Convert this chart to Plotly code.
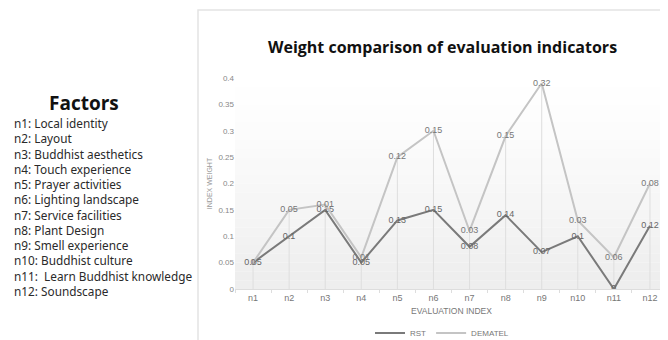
import numpy as np
import plotly.graph_objects as go

categories = ["n1", "n2", "n3", "n4", "n5", "n6", "n7", "n8", "n9", "n10", "n11", "n12"]
rst = [0.05, 0.1, 0.15, 0.05, 0.13, 0.15, 0.08, 0.14, 0.07, 0.1, 0, 0.12]
dematel = [0, 0.05, 0.01, 0.01, 0.12, 0.15, 0.03, 0.15, 0.32, 0.03, 0.06, 0.08]
factors = [
    "n1: Local identity",
    "n2: Layout",
    "n3: Buddhist aesthetics",
    "n4: Touch experience",
    "n5: Prayer activities",
    "n6: Lighting landscape",
    "n7: Service facilities",
    "n8: Plant Design",
    "n9: Smell experience",
    "n10: Buddhist culture",
    "n11:  Learn Buddhist knowledge",
    "n12: Soundscape",
]
yticks = [0, 0.05, 0.1, 0.15, 0.2, 0.25, 0.3, 0.35, 0.4]

OFF = 8  # page body margin
W, H = 660, 332
ML, MR, MT, MB = 227, 0, 70, 51
PW, PH = W - ML - MR, H - MT - MB

def px(x):
    return (x - OFF - ML) / PW

def py(y):
    return (H - MB - (y - OFF)) / PH

stacked = np.array(rst) + np.array(dematel)

fig = go.Figure()

# drop lines from top series to axis
fig.add_trace(go.Scatter(
    x=categories, y=stacked, mode="markers", marker=dict(size=1, color="rgba(0,0,0,0)"),
    error_y=dict(type="data", symmetric=False, array=[0] * len(stacked), arrayminus=stacked,
                 color="#dedede", thickness=1, width=0),
    showlegend=False, hoverinfo="skip"))

fig.add_trace(go.Scatter(
    x=categories, y=rst, name="RST", mode="lines+text",
    line=dict(color="#7a7a7a", width=2),
    text=[f"{v:g}" for v in rst], textposition="middle center",
    textfont=dict(family="Liberation Sans, Arial", size=9, color="#666666")))

fig.add_trace(go.Scatter(
    x=categories, y=stacked, name="DEMATEL", mode="lines+text",
    line=dict(color="#c4c4c4", width=2),
    text=[f"{v:g}" for v in dematel], textposition="middle center",
    textfont=dict(family="Liberation Sans, Arial", size=9, color="#777777")))

shapes = []
# gradient background in plot area
n = 24
for i in range(n):
    g = int(255 - 17 * (i / (n - 1)) ** 1.3)
    shapes.append(dict(type="rect", xref="x domain", yref="y domain",
                       x0=0, x1=1, y0=1 - (i + 1) / n, y1=1 - i / n,
                       fillcolor=f"rgb({g},{g},{g})", line=dict(width=0), layer="below"))
# outer chart border
shapes.append(dict(type="rect", xref="paper", yref="paper",
                   x0=px(198), x1=px(700), y0=py(10), y1=py(400),
                   line=dict(color="#e4e4e4", width=1.5), fillcolor="rgba(0,0,0,0)"))

annotations = [
    dict(text="<b>Weight comparison of evaluation indicators</b>", xref="paper", yref="paper",
         x=px(442), y=py(47), showarrow=False, xanchor="center", yanchor="middle",
         font=dict(family="Open Sans, Noto Sans", size=16, color="#111111")),
    dict(text="<b>Factors</b>", xref="paper", yref="paper",
         x=px(84), y=py(103), showarrow=False, xanchor="center", yanchor="middle",
         font=dict(family="Open Sans, Noto Sans", size=19, color="#111111")),
]
for i, t in enumerate(factors):
    annotations.append(dict(text=t.replace("  ", "&nbsp; "), xref="paper", yref="paper",
                            x=px(12), y=py(123 + i * 15.25), showarrow=False,
                            xanchor="left", yanchor="middle",
                            font=dict(family="Noto Sans, Open Sans", size=11.8, color="#2a2a2a")))

fig.update_layout(
    width=W, height=H,
    margin=dict(l=ML, r=MR, t=MT, b=MB, autoexpand=False),
    paper_bgcolor="white", plot_bgcolor="white",
    shapes=shapes, annotations=annotations,
    showlegend=True,
    legend=dict(orientation="h", x=px(442), xanchor="center", y=py(333), yanchor="middle",
                font=dict(family="Liberation Sans, Arial", size=8, color="#777777"),
                itemwidth=30, tracegroupgap=0),
    xaxis=dict(type="category", range=[-0.5, len(categories) - 0.5],
               showgrid=False, showline=True, linecolor="#dddddd",
               ticks="outside", tickson="boundaries", ticklen=3, tickcolor="#dddddd",
               tickfont=dict(family="Liberation Sans, Arial", size=9, color="#777777"),
               title=dict(text="EVALUATION INDEX", standoff=6,
                          font=dict(family="Liberation Sans, Arial", size=8.5, color="#777777")),
               automargin=False, fixedrange=True),
    yaxis=dict(range=[0, 0.4], tickvals=yticks, ticktext=[f"{v:g}" for v in yticks],
               showgrid=False, zeroline=False, showline=False,
               ticks="", tickfont=dict(family="Liberation Sans, Arial", size=8, color="#888888"),
               title=dict(text="INDEX WEIGHT", standoff=4,
                          font=dict(family="Liberation Sans, Arial", size=7, color="#999999")),
               automargin=False, fixedrange=True),
)

fig.write_html("out.html")
